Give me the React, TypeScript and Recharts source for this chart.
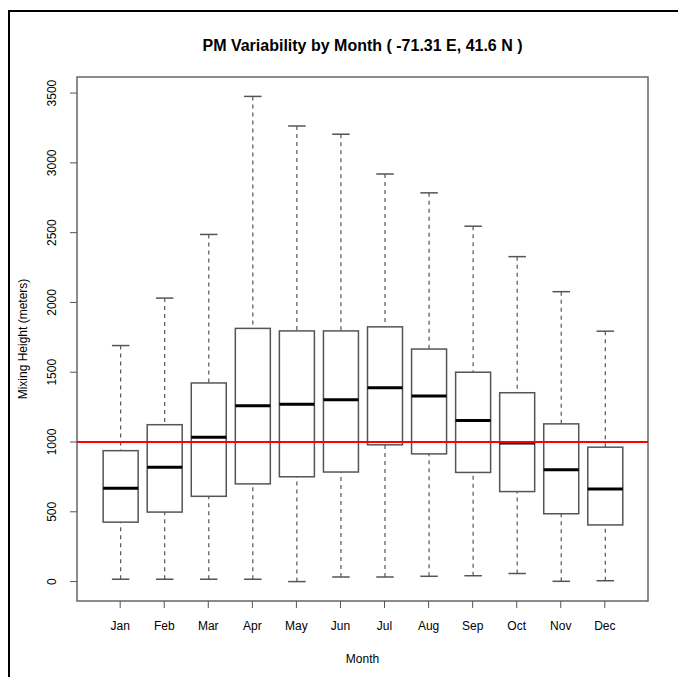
import { Bar, ComposedChart, XAxis, YAxis, ReferenceLine, ReferenceArea } from 'recharts';

const months = ['Jan', 'Feb', 'Mar', 'Apr', 'May', 'Jun', 'Jul', 'Aug', 'Sep', 'Oct', 'Nov', 'Dec'];
const monthIndex = [1, 2, 3, 4, 5, 6, 7, 8, 9, 10, 11, 12];
const lowWhisker = [17, 17, 17, 17, 0, 33, 33, 38, 42, 58, 2, 6];
const lowerQuartile = [426, 498, 611, 700, 751, 785, 980, 915, 782, 645, 486, 406];
const medians = [669, 820, 1034, 1260, 1270, 1302, 1389, 1329, 1155, 993, 802, 663];
const upperQuartile = [938, 1124, 1423, 1814, 1796, 1796, 1825, 1666, 1500, 1353, 1130, 963];
const highWhisker = [1691, 2031, 2487, 3476, 3264, 3205, 2920, 2785, 2546, 2328, 2077, 1794];
const refLevel = 1000;
const yTicks = [0, 500, 1000, 1500, 2000, 2500, 3000, 3500];
const xDomain = [0.02, 12.98];
const yDomain = [-139, 3615];

const FONT = '"Liberation Sans", Arial, Helvetica, sans-serif';
const GREY = '#555';

const data = months.map((m, i) => ({
  idx: monthIndex[i],
  month: m,
  low: lowWhisker[i],
  q1: lowerQuartile[i],
  median: medians[i],
  q3: upperQuartile[i],
  high: highWhisker[i],
  range: [lowWhisker[i], highWhisker[i]],
}));

// box + whiskers drawn inside the bar's pixel extent (low..high)
function BoxShape(props) {
  const { x, y, width, height, payload } = props;
  if (payload == null || width == null) return null;
  const top = Math.min(y, y + height);
  const bottom = Math.max(y, y + height);
  const { low, q1, median, q3, high } = payload;
  const toY = (v) => bottom - ((v - low) / (high - low)) * (bottom - top);
  const cx = x + width / 2;
  const cap = width / 4;
  const yQ1 = toY(q1);
  const yQ3 = toY(q3);
  const yMed = toY(median);
  return (
    <g>
      <line x1={cx} x2={cx} y1={bottom} y2={yQ1} stroke={GREY} strokeWidth={1.2} strokeDasharray="4 4" />
      <line x1={cx} x2={cx} y1={top} y2={yQ3} stroke={GREY} strokeWidth={1.2} strokeDasharray="4 4" />
      <line x1={cx - cap} x2={cx + cap} y1={bottom} y2={bottom} stroke={GREY} strokeWidth={1.5} />
      <line x1={cx - cap} x2={cx + cap} y1={top} y2={top} stroke={GREY} strokeWidth={1.5} />
      <rect x={x} y={yQ3} width={width} height={yQ1 - yQ3} fill="#fff" stroke={GREY} strokeWidth={1.5} />
      <line x1={x} x2={x + width} y1={yMed} y2={yMed} stroke="#000" strokeWidth={3} />
    </g>
  );
}

const YTick = ({ x, y, payload }) => (
  <text x={x} y={y} transform={`rotate(-90 ${x} ${y})`} textAnchor="middle" fontSize={12} fontFamily={FONT} fill="#000">
    {payload.value}
  </text>
);

const YTitle = ({ viewBox }) => {
  const tx = viewBox.x + 19;
  const ty = viewBox.y + viewBox.height / 2;
  return (
    <text x={tx} y={ty} transform={`rotate(-90 ${tx} ${ty})`} textAnchor="middle" fontSize={12} fontFamily={FONT} fill="#000">
      Mixing Height (meters)
    </text>
  );
};

const XTitle = ({ viewBox }) => (
  <text x={viewBox.x + viewBox.width / 2} y={viewBox.y + 62} textAnchor="middle" fontSize={12} fontFamily={FONT} fill="#000">
    Month
  </text>
);

export default function App() {
  return (
    <div style={{ position: 'relative', width: 676, height: 669 }}>
      <div
        style={{
          position: 'absolute',
          left: 0,
          top: 2,
          width: 672,
          height: 665,
          borderTop: '2px solid #000',
          borderLeft: '2px solid #000',
          borderRight: '2px solid #000',
        }}
      />
      <div
        style={{
          position: 'absolute',
          left: 69,
          top: 29.5,
          width: 571,
          textAlign: 'center',
          fontFamily: FONT,
          fontWeight: 'bold',
          fontSize: 16,
          lineHeight: 1,
          color: '#000',
        }}
      >
        PM Variability by Month ( -71.31 E, 41.6 N )
      </div>
      <div style={{ position: 'absolute', left: 0, top: 0 }}>
        <ComposedChart width={676} height={669} data={data} margin={{ top: 69, right: 36, left: 0, bottom: 0 }}>
          <XAxis
            dataKey="idx"
            type="number"
            domain={xDomain}
            allowDataOverflow
            ticks={monthIndex}
            interval={0}
            tickFormatter={(v) => months[v - 1]}
            height={76}
            axisLine={false}
            tickLine={{ stroke: GREY }}
            tickSize={7}
            tickMargin={13}
            tick={{ fontSize: 12, fontFamily: FONT, fill: '#000' }}
            label={{ content: XTitle }}
          />
          <YAxis
            type="number"
            domain={yDomain}
            allowDataOverflow
            ticks={yTicks}
            interval={0}
            width={69}
            axisLine={false}
            tickLine={{ stroke: GREY }}
            tickSize={7}
            tickMargin={14}
            tick={YTick}
            label={{ content: YTitle }}
          />
          <ReferenceArea
            x1={xDomain[0]}
            x2={xDomain[1]}
            y1={yDomain[0]}
            y2={yDomain[1]}
            fill="none"
            fillOpacity={0}
            stroke="#666"
            strokeWidth={1.5}
            ifOverflow="visible"
          />
          <Bar dataKey="range" barSize={35} shape={BoxShape} isAnimationActive={false} />
          <ReferenceLine y={refLevel} stroke="#ff0000" strokeWidth={2} />
        </ComposedChart>
      </div>
    </div>
  );
}
